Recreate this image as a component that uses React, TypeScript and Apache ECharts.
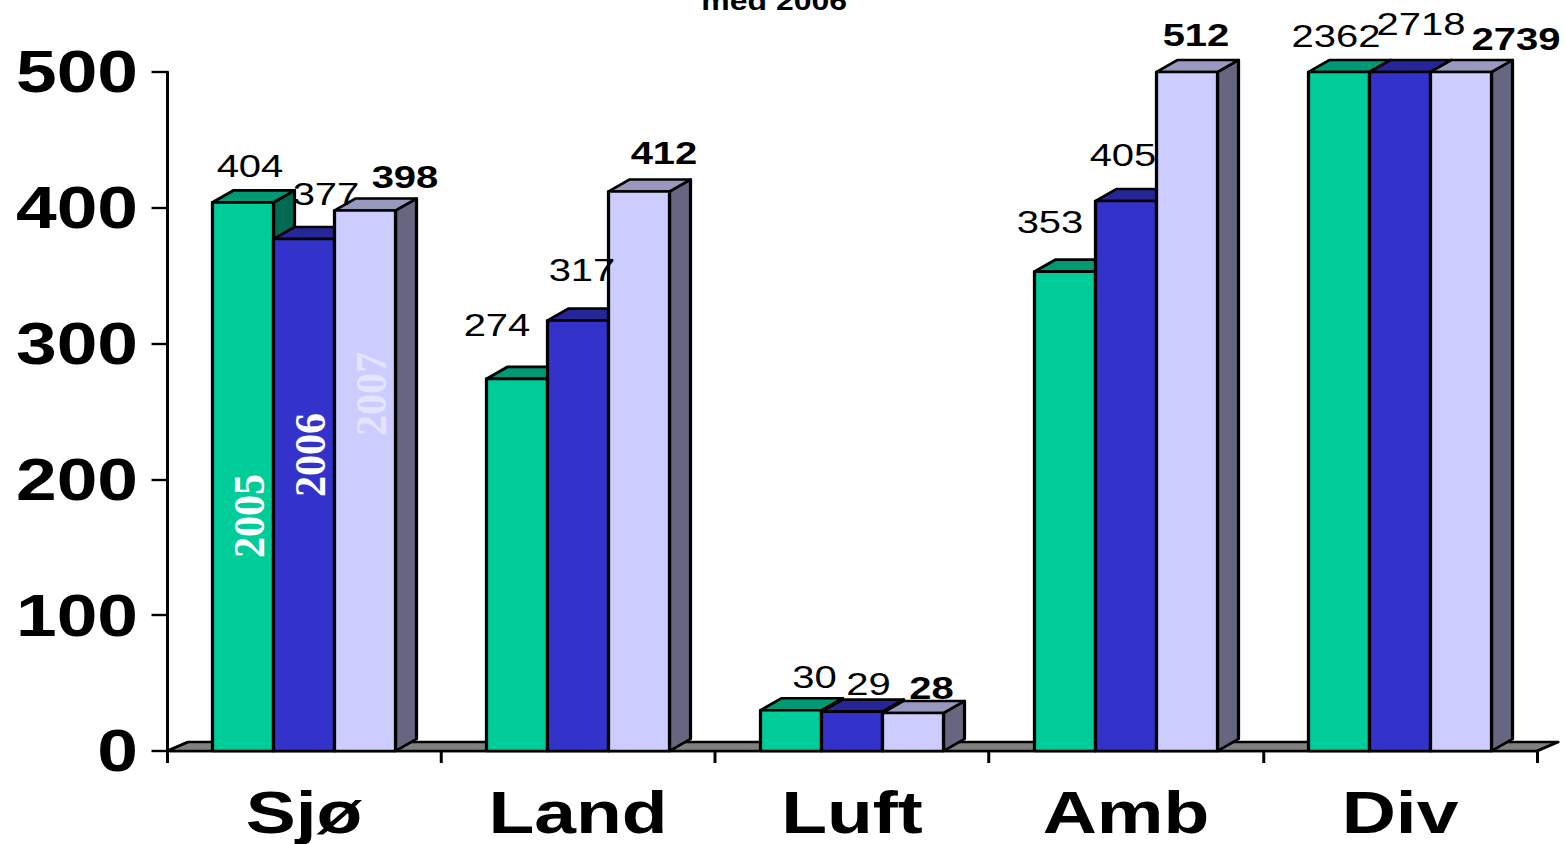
import React, { useEffect, useRef } from "react";
import * as echarts from "echarts";

const categories = ["Sjø", "Land", "Luft", "Amb", "Div"];
const years = ["2005", "2006", "2007"];
const values2005 = [404, 274, 30, 353, 2362];
const values2006 = [377, 317, 29, 405, 2718];
const values2007 = [398, 412, 28, 512, 2739];
const yTicks = { min: 0, max: 500, interval: 100 };
const titleText = "med 2006";

// The reference is a picture stretched sideways, so the whole chart is stretched the same way.
const STRETCH_X = 1.25;
const PAGE_W = 1565;
const PAGE_H = 844;
const px = (v: number) => v / STRETCH_X;

const grid = { left: px(167), top: 72, width: px(1370), height: 679 };
const BAR_SHARE = 61 / 274;
const DEPTH_X = px(21);
const DEPTH_Y = 12;

const faces = [
  { front: "#00CC99", top: "#009973", side: "#006B50" },
  { front: "#3333CC", top: "#262699", side: "#1A1A66" },
  { front: "#CCCCFF", top: "#9999BF", side: "#666680" },
];

// Hand placement of each value label, relative to the top centre of its bar: [right, down] in page px
const labelNudges = [
  [[7, -36], [22, -45], [40, -33.5]],
  [[-20, -54], [4, -50.5], [25, -38.5]],
  [[23.5, -33], [16.5, -27.6], [18.5, -25]],
  [[-15, -49.6], [-3, -46], [9, -37]],
  [[-3, -36], [21, -48], [55, -33]],
];
const yearLabelColors = ["#FFFFFF", "#FFFFFF", "#E4E4FF"];
const yearLabelMiddle = [516, 455, 394];

const edge = { stroke: "#000", lineWidth: 2.6, lineJoin: "round" };
const AXIS_LINE = { color: "#000", width: 2.4 };
const SANS = '"Liberation Sans", Arial, sans-serif';

function barGeometry(api: any, yearIdx: number) {
  const cat = api.value(0);
  const val = api.value(1);
  const w = api.size([1, 0])[0] * BAR_SHARE;
  const [cx, y0] = api.coord([cat, 0]);
  const yTop = api.coord([cat, Math.min(val, yTicks.max)])[1];
  const x0 = cx + (yearIdx - 1) * w - w / 2;
  return { cat, val, w, y0, yTop, x0, x1: x0 + w };
}

function barSeries(yearIdx: number, values: number[]) {
  const face = faces[yearIdx];
  return {
    type: "custom",
    name: years[yearIdx],
    clip: false,
    z: 3 + yearIdx,
    encode: { x: 0, y: 1 },
    data: values.map((v, i) => [i, v]),
    renderItem: (params: any, api: any) => {
      const { y0, yTop, x0, x1 } = barGeometry(api, yearIdx);
      return {
        type: "group",
        children: [
          {
            type: "polygon",
            shape: { points: [[x1, y0], [x1 + DEPTH_X, y0 - DEPTH_Y], [x1 + DEPTH_X, yTop - DEPTH_Y], [x1, yTop]] },
            style: { fill: face.side, ...edge },
          },
          {
            type: "polygon",
            shape: { points: [[x0, yTop], [x0 + DEPTH_X, yTop - DEPTH_Y], [x1 + DEPTH_X, yTop - DEPTH_Y], [x1, yTop]] },
            style: { fill: face.top, ...edge },
          },
          {
            type: "polygon",
            shape: { points: [[x0, y0], [x0, yTop], [x1, yTop], [x1, y0]] },
            style: { fill: face.front, ...edge },
          },
        ],
      };
    },
  };
}

function labelSeries(yearIdx: number, values: number[]) {
  return {
    type: "custom",
    name: years[yearIdx] + " labels",
    clip: false,
    silent: true,
    z: 10,
    encode: { x: 0, y: 1 },
    data: values.map((v, i) => [i, v]),
    renderItem: (params: any, api: any) => {
      const { cat, val, w, yTop, x0 } = barGeometry(api, yearIdx);
      const nudge = labelNudges[cat][yearIdx];
      const children: any[] = [
        {
          type: "text",
          x: x0 + w / 2 + px(nudge[0]),
          y: yTop + nudge[1],
          style: {
            text: String(val),
            fill: "#000",
            font: `${yearIdx === 2 ? "bold " : ""}32px ${SANS}`,
            textAlign: "center",
            textVerticalAlign: "middle",
          },
        },
      ];
      if (cat === 0) {
        children.push({
          type: "text",
          x: x0 + w / 2 + px(6),
          y: yearLabelMiddle[yearIdx],
          rotation: Math.PI / 2,
          scaleX: 1.17,
          style: {
            text: years[yearIdx],
            fill: yearLabelColors[yearIdx],
            font: 'bold 36px "Liberation Serif", "Times New Roman", serif',
            textAlign: "center",
            textVerticalAlign: "middle",
          },
        });
      }
      return { type: "group", children };
    },
  };
}

const floorSeries = {
  type: "custom",
  name: "floor",
  clip: false,
  silent: true,
  z: 2,
  data: [[0, 0]],
  encode: { x: 0, y: 1 },
  renderItem: (params: any) => {
    const { x, y, width, height } = params.coordSys;
    const yB = y + height;
    return {
      type: "polygon",
      shape: { points: [[x, yB], [x + DEPTH_X, yB - 9], [x + width + DEPTH_X, yB - 9], [x + width, yB]] },
      style: { fill: "#808080", ...edge },
    };
  },
};

export default function App() {
  const ref = useRef<HTMLDivElement>(null);
  useEffect(() => {
    const chart = echarts.init(ref.current!, undefined, { renderer: "svg" });
    chart.setOption({
      animation: false,
      backgroundColor: "#fff",
      title: {
        text: titleText,
        left: px(768),
        textAlign: "center",
        top: -17,
        textStyle: { fontFamily: SANS, fontWeight: "bold", fontSize: 25.6, color: "#000" },
      },
      grid,
      xAxis: {
        type: "category",
        data: categories,
        boundaryGap: true,
        axisLine: { show: true, lineStyle: AXIS_LINE },
        axisTick: { show: true, alignWithLabel: false, length: 12, lineStyle: AXIS_LINE },
        axisLabel: {
          margin: 34,
          color: "#000",
          fontFamily: SANS,
          fontWeight: "bold",
          fontSize: 60,
          lineHeight: 54,
          interval: 0,
        },
      },
      yAxis: {
        type: "value",
        min: yTicks.min,
        max: yTicks.max,
        interval: yTicks.interval,
        splitLine: { show: false },
        axisLine: { show: true, lineStyle: AXIS_LINE },
        axisTick: { show: true, length: px(15.5), lineStyle: AXIS_LINE },
        axisLabel: {
          margin: px(29),
          color: "#000",
          fontFamily: SANS,
          fontWeight: "bold",
          fontSize: 58.5,
        },
      },
      series: [
        floorSeries,
        barSeries(0, values2005),
        barSeries(1, values2006),
        barSeries(2, values2007),
        labelSeries(0, values2005),
        labelSeries(1, values2006),
        labelSeries(2, values2007),
      ],
    });
    return () => chart.dispose();
  }, []);
  return (
    <div style={{ position: "absolute", left: 0, top: 0, width: PAGE_W, height: PAGE_H, overflow: "hidden", background: "#fff" }}>
      <div
        ref={ref}
        style={{
          width: PAGE_W / STRETCH_X,
          height: PAGE_H,
          transform: `scaleX(${STRETCH_X})`,
          transformOrigin: "0 0",
        }}
      />
    </div>
  );
}
